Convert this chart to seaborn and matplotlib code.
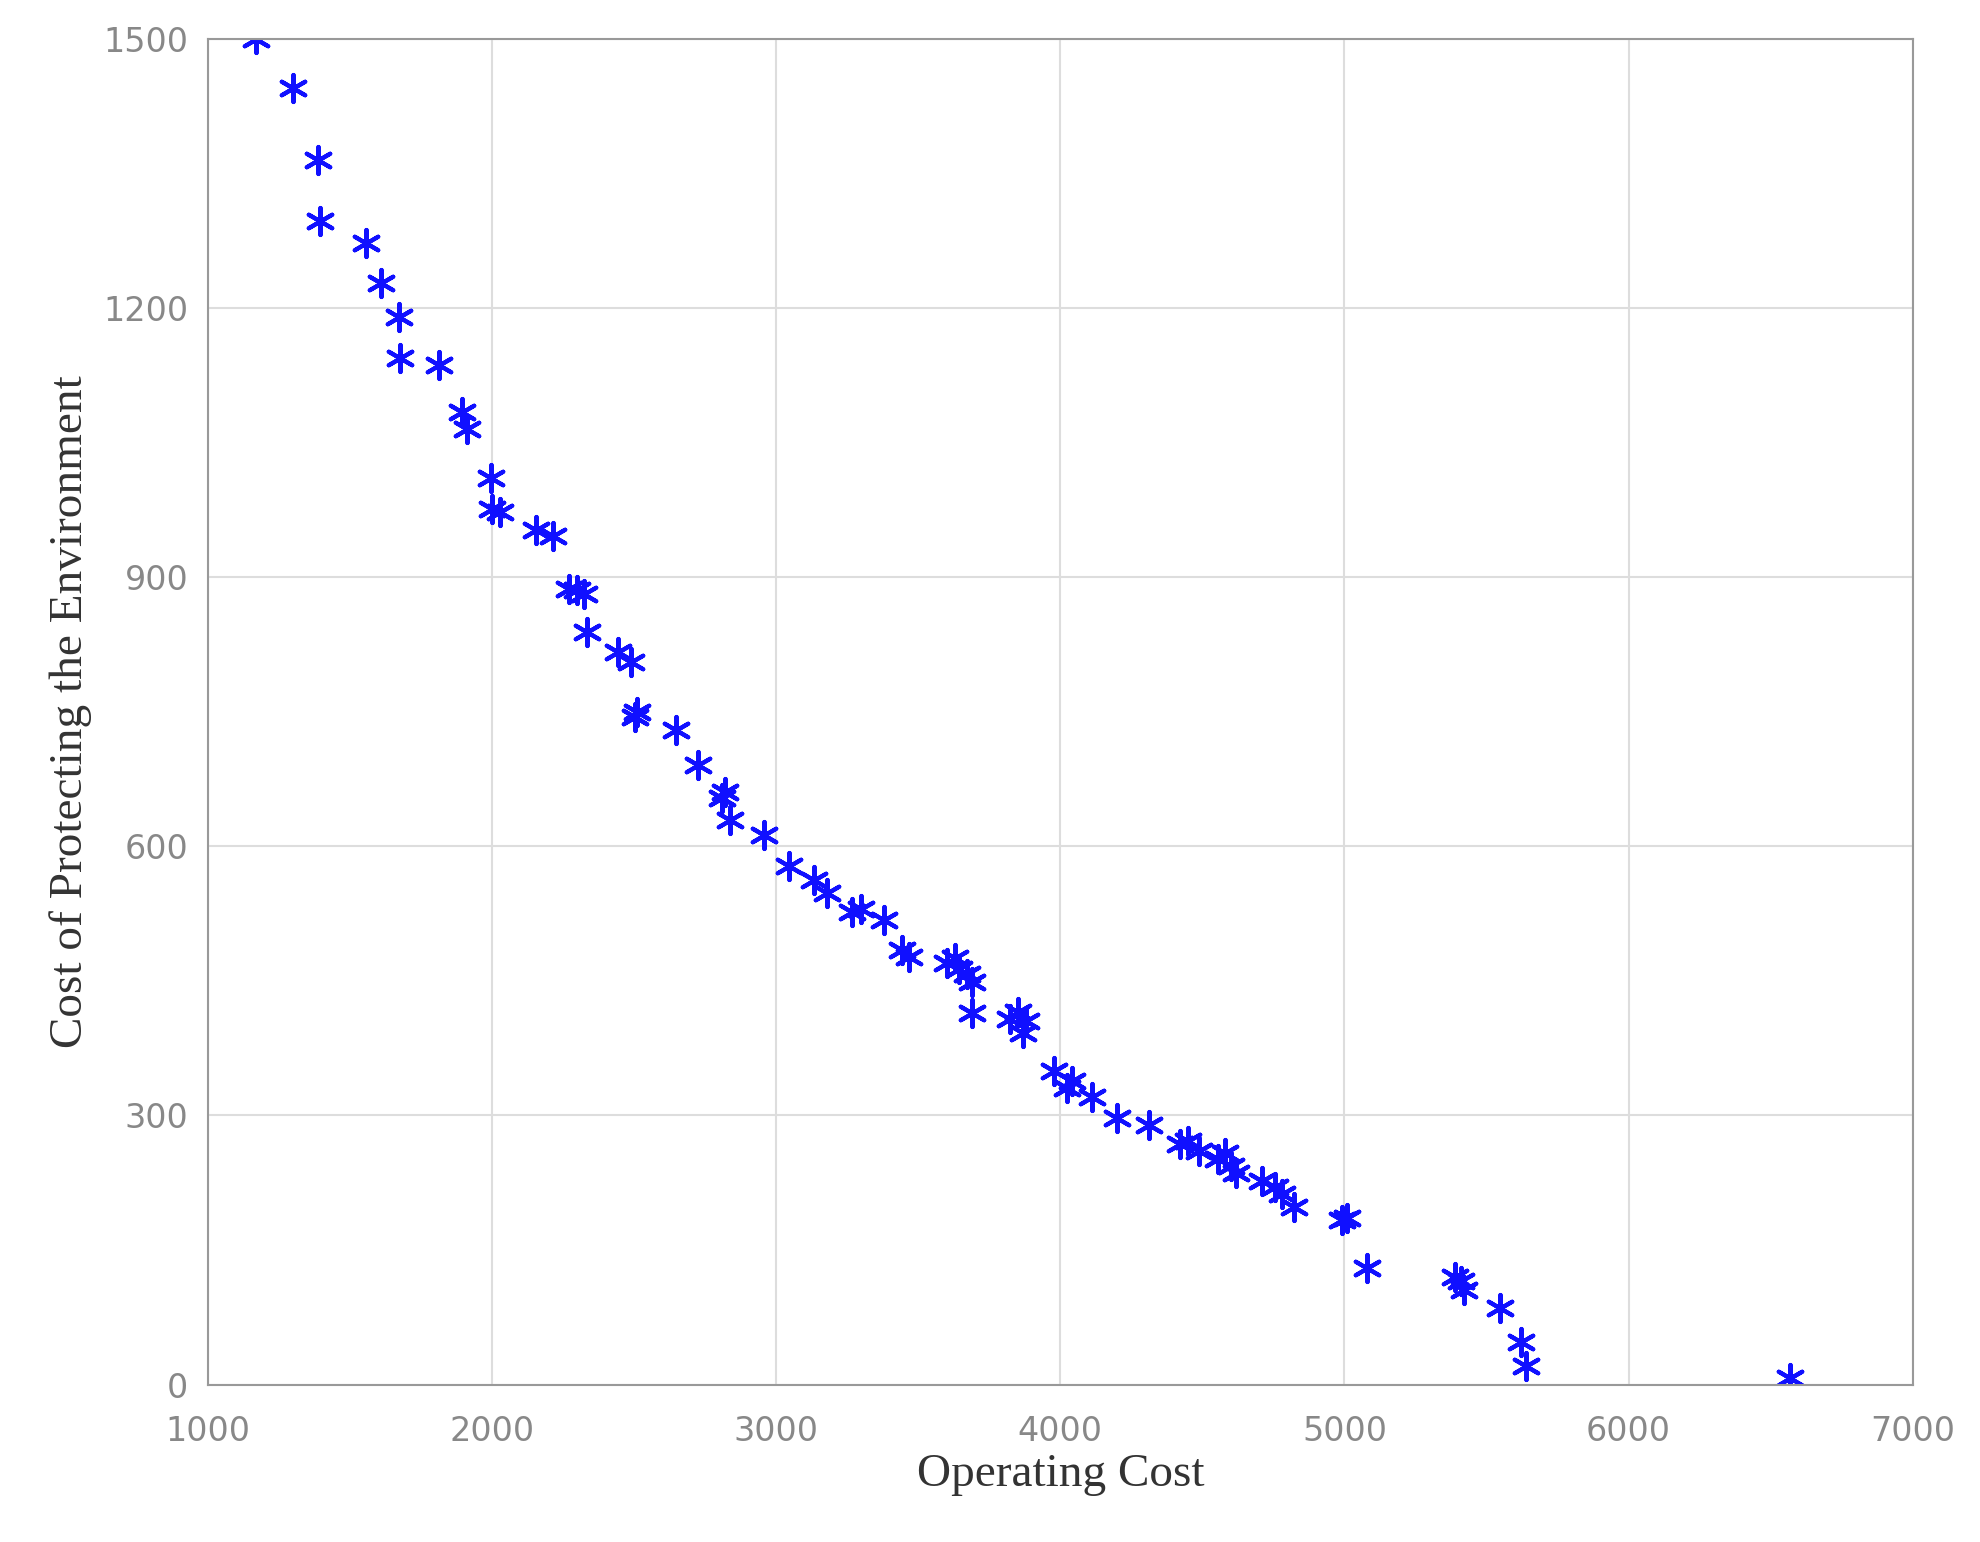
import numpy as np
import pandas as pd
import matplotlib
matplotlib.use('Agg')
import matplotlib.pyplot as plt
import seaborn as sns

# values
operating_cost = [1169, 1298, 1387, 1396, 1556, 1609, 1671, 1676, 1813, 1893, 1911, 1996, 2000, 2027,
                  2156, 2213, 2271, 2300, 2324, 2333, 2444, 2489, 2502, 2510, 2649, 2724, 2809, 2820, 2836,
                  2956, 3044, 3133, 3178, 3267, 3300, 3378, 3444, 3467, 3600, 3630, 3644, 3670, 3689, 3689,
                  3822, 3850, 3867, 3880, 3978, 4022, 4040, 4111, 4200, 4311, 4422, 4450, 4489, 4556, 4580,
                  4600, 4620, 4711, 4756, 4780, 4822, 4991, 5010, 5080, 5390, 5409, 5422, 5547, 5622, 5640, 6569]
env_cost = [1500, 1445, 1365, 1297, 1272, 1228, 1190, 1144, 1136, 1084, 1065, 1010, 976, 973,
            952, 946, 887, 885, 881, 839, 817, 805, 744, 750, 730, 691, 654, 660, 629,
            612, 578, 562, 548, 527, 530, 518, 484, 477, 470, 475, 463, 458, 449, 414,
            407, 415, 392, 405, 350, 331, 338, 321, 297, 289, 268, 272, 260, 251, 258,
            244, 236, 227, 220, 212, 198, 184, 186, 130, 120, 116, 106, 85, 48, 21, 7]

df = pd.DataFrame({'op': operating_cost, 'env': env_cost})

sns.set_style('white')
fig = plt.figure(figsize=(19.8, 15.42), dpi=100)
ax = fig.add_axes([0.105, 0.102, 0.861, 0.873])
# MATLAB-style asterisk marker
sns.scatterplot(data=df, x='op', y='env', ax=ax, marker=(6, 2, 0), s=380, color='#1010ff',
                edgecolor='#1010ff', linewidth=3)

ax.set_xlim(1000, 7000)
ax.set_ylim(0, 1500)
ax.set_xticks(range(1000, 7001, 1000))
ax.set_yticks(range(0, 1501, 300))
ax.grid(True, color='#dddddd', linewidth=1.5)
for s in ax.spines.values():
    s.set_color('#999999')
    s.set_linewidth(1.5)
ax.tick_params(labelsize=24, colors='#888888', length=0)
ax.tick_params(axis='x', pad=22)
ax.tick_params(axis='y', pad=14)
ax.set_xlabel('Operating Cost', fontsize=34, family='Liberation Serif', color='#333333', labelpad=4)
ax.set_ylabel('Cost of Protecting the Environment', fontsize=34, family='Liberation Serif',
              color='#333333', labelpad=8)
fig.savefig('out.png', dpi=100)
